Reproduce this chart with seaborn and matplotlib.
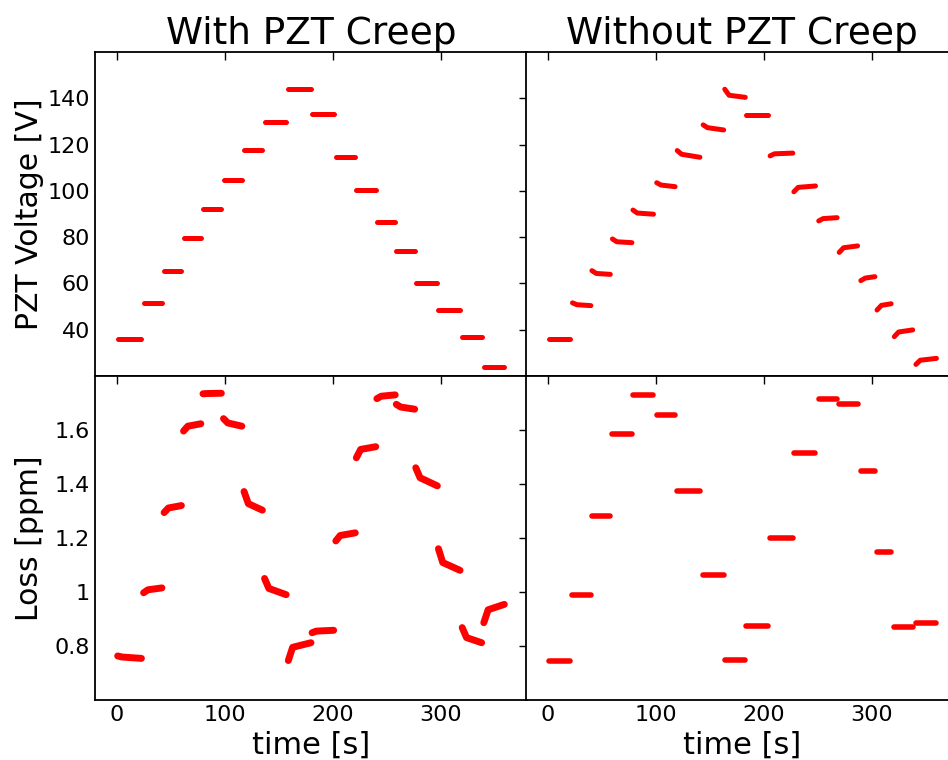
import pandas as pd
import matplotlib.pyplot as plt
import seaborn as sns

sns.set_style('white')
plt.rcParams['font.family'] = ['DejaVu Sans']
plt.rcParams['text.color'] = 'black'
plt.rcParams['axes.labelcolor'] = 'black'

# segment times [s] (first / last sample of each voltage step)
t_start_creep = [1, 25, 44, 62, 80, 99, 118, 137, 159, 181, 203, 222, 241, 259, 277, 298, 320, 340]
t_end_creep = [23, 42, 60, 78, 97, 116, 135, 157, 180, 201, 221, 240, 258, 276, 297, 318, 338, 359]
t_start_nocreep = [1, 23, 41, 60, 79, 101, 120, 144, 164, 184, 206, 228, 251, 270, 290, 305, 321, 341]
t_end_nocreep = [21, 40, 58, 78, 98, 118, 141, 163, 183, 204, 227, 248, 268, 287, 303, 318, 338, 360]

# with PZT creep: voltage held constant, loss drifts
pzt_creep = [35.8, 51.4, 65.4, 79.6, 92.2, 104.5, 117.8, 129.8, 143.9,
             133.1, 114.8, 100.4, 86.4, 74.0, 60.3, 48.5, 36.8, 23.9]
loss_creep_first = [0.763, 0.997, 1.294, 1.596, 1.734, 1.642, 1.372, 1.050, 0.746,
                    0.849, 1.189, 1.497, 1.716, 1.695, 1.460, 1.160, 0.868, 0.886]
loss_creep_knee = [0.759, 1.008, 1.311, 1.614, 1.735, 1.626, 1.327, 1.013, 0.795,
                   0.855, 1.209, 1.528, 1.725, 1.685, 1.423, 1.109, 0.831, 0.934]
loss_creep_last = [0.754, 1.015, 1.320, 1.623, 1.736, 1.614, 1.303, 0.990, 0.812,
                   0.858, 1.219, 1.538, 1.730, 1.677, 1.393, 1.080, 0.812, 0.954]

# without PZT creep: voltage compensated, loss constant
pzt_nocreep_first = [35.8, 51.6, 65.5, 79.2, 91.7, 103.5, 117.4, 128.5, 143.9,
                     132.8, 115.1, 99.6, 87.0, 73.4, 61.2, 48.5, 37.0, 25.0]
pzt_nocreep_knee = [35.8, 50.8, 64.3, 78.0, 90.4, 102.5, 115.8, 127.3, 141.3,
                    132.8, 116.0, 101.5, 88.0, 75.4, 62.3, 50.5, 39.0, 26.8]
pzt_nocreep_last = [35.8, 50.4, 63.9, 77.6, 89.9, 101.8, 114.5, 126.3, 140.4,
                    132.8, 116.3, 102.1, 88.4, 76.2, 62.9, 51.2, 39.9, 27.6]
loss_nocreep = [0.746, 0.990, 1.283, 1.586, 1.731, 1.654, 1.373, 1.064, 0.748,
                0.874, 1.201, 1.515, 1.716, 1.695, 1.448, 1.148, 0.872, 0.884]

KNEE = 4  # s after the step where the creep has mostly settled


def segments(t0, t1, first, knee=None, last=None):
    knee = first if knee is None else knee
    last = first if last is None else last
    rows = []
    for i, (a, b, f, k, l) in enumerate(zip(t0, t1, first, knee, last)):
        rows += [(i, a, f), (i, a + KNEE, k), (i, b, l)]
    return pd.DataFrame(rows, columns=['seg', 't', 'v'])


panels = [
    (segments(t_start_creep, t_end_creep, pzt_creep), 3.6),
    (segments(t_start_nocreep, t_end_nocreep, pzt_nocreep_first, pzt_nocreep_knee, pzt_nocreep_last), 3.6),
    (segments(t_start_creep, t_end_creep, loss_creep_first, loss_creep_knee, loss_creep_last), 5.0),
    (segments(t_start_nocreep, t_end_nocreep, loss_nocreep), 4.0),
]

fig = plt.figure(figsize=(9.48, 7.6), dpi=100)
W, H = 0.4557, 0.4263
pos = [[0.1002, 0.5053, W, H], [0.5549, 0.5053, W, H],
       [0.1002, 0.0790, W, H], [0.5549, 0.0790, W, H]]
axes = [fig.add_axes(p) for p in pos]

for i, (ax, (df, lw)) in enumerate(zip(axes, panels)):
    sns.lineplot(data=df, x='t', y='v', units='seg', estimator=None, sort=False,
                 color='red', lw=lw, solid_capstyle='round', solid_joinstyle='round',
                 legend=False, ax=ax)
    ax.set_xlim(-20, 380)
    ax.set_xticks([0, 100, 200, 300])
    ax.tick_params(direction='in', top=True, right=True, length=6, width=1,
                   labelsize=16, colors='black')
    for s in ax.spines.values():
        s.set_linewidth(1.3)
        s.set_color('black')
    ax.set_xlabel('')
    ax.set_ylabel('')
    if i < 2:
        ax.set_ylim(20, 160)
        ax.set_yticks([40, 60, 80, 100, 120, 140])
        ax.tick_params(labelbottom=False)
    else:
        ax.set_ylim(0.6, 1.8)
        ax.set_yticks([0.8, 1.0, 1.2, 1.4, 1.6])
        ax.set_yticklabels(['0.8', '1', '1.2', '1.4', '1.6'])
        ax.set_xlabel('time [s]', fontsize=22)
    if i % 2 == 1:
        ax.tick_params(labelleft=False)

axes[0].set_title('With PZT Creep', fontsize=27)
axes[1].set_title('Without PZT Creep', fontsize=27)
axes[0].set_ylabel('PZT Voltage [V]', fontsize=21.5)
axes[2].set_ylabel('Loss [ppm]', fontsize=21.5)
axes[0].yaxis.set_label_coords(-0.118, 0.5)
axes[2].yaxis.set_label_coords(-0.118, 0.5)

fig.savefig('out.png', dpi=100)
